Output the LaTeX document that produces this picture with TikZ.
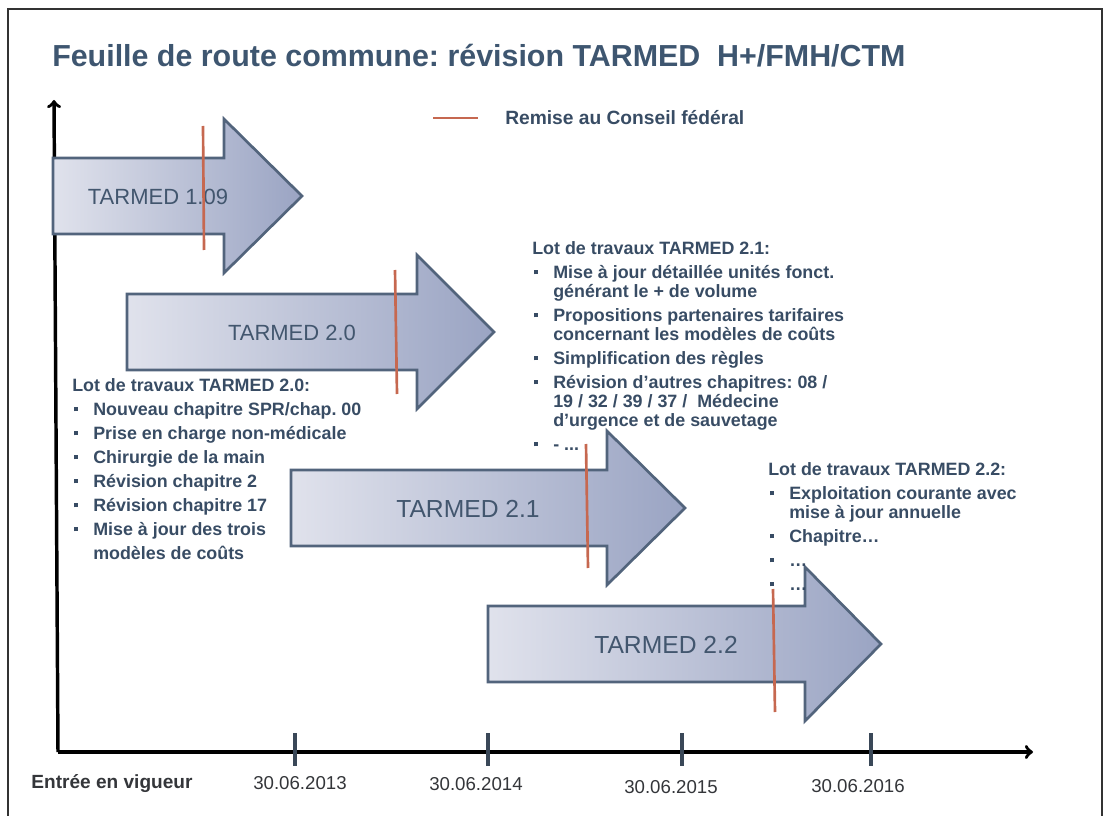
\documentclass[tikz,border=0pt]{standalone}
\usepackage{fontspec}
\setmainfont{Liberation Sans}
\frenchspacing
\definecolor{titreBleu}{RGB}{62,86,112}
\definecolor{lotBleu}{RGB}{56,76,100}
\definecolor{etiqBleu}{RGB}{66,86,110}
\definecolor{bordFleche}{RGB}{82,100,124}
\definecolor{fondG}{RGB}{224,226,236}
\definecolor{fondD}{RGB}{154,164,195}
\definecolor{rouge}{RGB}{198,104,80}
\definecolor{trait}{RGB}{58,72,88}
\definecolor{gris}{RGB}{52,54,58}
\newcommand{\puce}{\makebox[15.75pt][l]{\hspace{1.2pt}\raisebox{2.8pt}{\rule{3.3pt}{3.3pt}}}}
\newcommand{\suite}{\hspace*{15.75pt}}

\begin{document}
\begin{tikzpicture}[x=0.75pt,y=-0.75pt,
    fleche/.style={draw=bordFleche,line width=2pt,left color=fondG,right color=fondD},
    remise/.style={draw=rouge,line width=2pt},
    etiq/.style={text=etiqBleu,inner sep=0pt},
    lot/.style={text=lotBleu,align=left,anchor=north west,inner sep=0pt},
    date/.style={text=gris,font=\fontsize{14}{16}\selectfont,inner sep=0pt}]
        \useasboundingbox (0,0) rectangle (1109,816);
        \draw[black!80,line width=1.1pt](8,830)--(8,9)--(1102,9)--(1102,830);
        \node[anchor=base west,text=titreBleu,font=\bfseries\fontsize{22.8}{27}\selectfont,inner sep=0pt] (titre) at (52,67) {Feuille de route commune: révision TARMED\ \ H+/FMH/CTM};
        \coordinate (origine) at (58,752);
        \coordinate (haut) at (54,100);
        \coordinate (droite) at (1033,752);
        \draw[->,line width=2.6pt](origine)--(haut);
        \draw[->,line width=2.6pt](origine)--(droite);
        \foreach \x in {295,488,682,871}
            \draw[trait,line width=3pt](\x,733)--(\x,766);
        \foreach \x/\y/\an in {300/783/2013,476/784/2014,671/787/2015,858/786/2016}
            \node[date] (d\an) at (\x,\y) {30.06.\an};
        \node[text=gris,font=\bfseries\fontsize{14.3}{16}\selectfont,inner sep=0pt] (vigueur) at (112,784) {Entrée en vigueur};
        \foreach \g/\t/\p/\c in {53/224/302/196,127/417/494/332,291/607/685/508,488/805/881/644}
            \draw[fleche](\g,\c-38)--(\t,\c-38)--(\t,\c-77)--(\p,\c)--(\t,\c+77)--(\t,\c+38)--(\g,\c+38)--cycle;
        \node[etiq,font=\fontsize{16.5}{20}\selectfont] (t109) at (158,197) {TARMED 1.09};
        \node[etiq,font=\fontsize{16.5}{20}\selectfont] (t20) at (292,333) {TARMED 2.0};
        \node[etiq,font=\fontsize{18.5}{22}\selectfont] (t21) at (468,508.5) {TARMED 2.1};
        \node[etiq,font=\fontsize{18.5}{22}\selectfont] (t22) at (666,644.5) {TARMED 2.2};
        \draw[remise](203,126)--(204,250);
        \draw[remise](395,270)--(397,394);
        \draw[remise](586,444)--(588,568);
        \draw[remise](773,589)--(775,712);
        \coordinate (lg) at (433,118);
        \coordinate (ld) at (478,118);
        \draw[remise](lg)--(ld);
        \node[anchor=west,text=lotBleu,font=\bfseries\fontsize{14.4}{17}\selectfont,inner sep=0pt] (legende) at (505,118) {Remise au Conseil fédéral};
        \node[lot,font=\bfseries\fontsize{13.4}{18}\selectfont] (lot20) at (72,378) {Lot de travaux TARMED 2.0:\\
            \puce Nouveau chapitre SPR/chap. 00\\
            \puce Prise en charge non-médicale\\
            \puce Chirurgie de la main\\
            \puce Révision chapitre 2\\
            \puce Révision chapitre 17\\
            \puce Mise à jour des trois\\
            \suite modèles de coûts};
        \node[lot,font=\bfseries\fontsize{13.4}{14.25}\selectfont] (lot21) at (532,241) {Lot de travaux TARMED 2.1:\\[3.75pt]
            \puce Mise à jour détaillée unités fonct.\\
            \suite générant le + de volume\\[3.75pt]
            \puce Propositions partenaires tarifaires\\
            \suite concernant les modèles de coûts\\[3.75pt]
            \puce Simplification des règles\\[3.75pt]
            \puce Révision d’autres chapitres: 08 /\\
            \suite 19 / 32 / 39 / 37 /\ \ Médecine\\
            \suite d’urgence et de sauvetage\\[3.75pt]
            \puce - ...};
        \node[lot,font=\bfseries\fontsize{13.4}{14.25}\selectfont] (lot22) at (768,462) {Lot de travaux TARMED 2.2:\\[3.75pt]
            \puce Exploitation courante avec\\
            \suite mise à jour annuelle\\[3.75pt]
            \puce Chapitre…\\[3.75pt]
            \puce …\\[3.75pt]
            \puce …};
    \end{tikzpicture}
\end{document}
